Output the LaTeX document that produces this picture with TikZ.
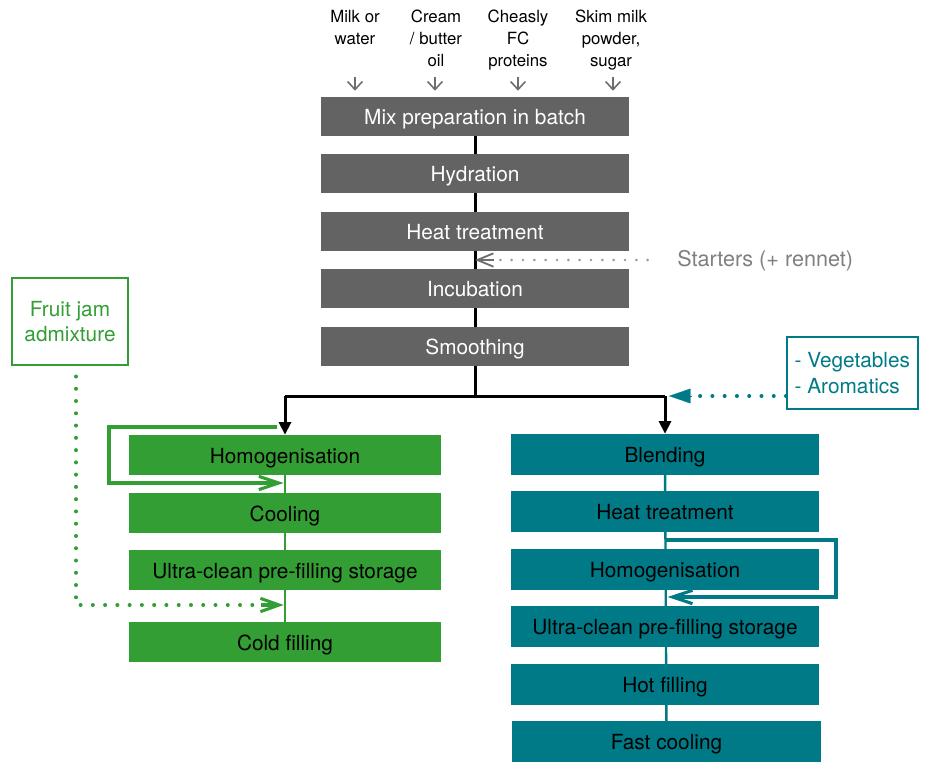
\documentclass[tikz,border=0pt]{standalone}
\usepackage{fontspec}
\setmainfont{TeX Gyre Heros}
\usetikzlibrary{arrows.meta,backgrounds}
\definecolor{boxgrey}{HTML}{636363}
\definecolor{mygreen}{HTML}{339E33}
\definecolor{myteal}{HTML}{007A87}
\definecolor{lightgrey}{HTML}{7F7F7F}
\definecolor{dotgrey}{HTML}{9A9A9A}
\definecolor{arrgrey}{HTML}{6E6E6E}
\begin{document}
\begin{tikzpicture}[x=0.75pt,y=-0.75pt,
  boxtext/.style={font=\fontsize{15.6}{19}\selectfont},
  boxbase/.style={boxtext,rectangle,inner sep=0pt,text height=13.5pt,text depth=1pt},
  greybox/.style={boxbase,fill=boxgrey,text=white,minimum width=231pt,minimum height=29.25pt},
  greenbox/.style={boxbase,fill=mygreen,text=black,minimum width=234pt,minimum height=30pt},
  tealbox/.style={boxbase,fill=myteal,text=black,minimum width=231pt,minimum height=30.75pt},
  inlabel/.style={font=\fontsize{12.6}{16.5}\selectfont,align=center,anchor=north,inner sep=0pt},
  mainline/.style={line width=2.25pt,black},
  mainarrow/.style={mainline,-{Triangle[length=9.5pt,width=9pt]}},
  dotline/.style={line width=3pt,line cap=round,dash pattern=on 0pt off 9.2pt},
  loopline/.style={line width=2.3pt,line join=miter},
  inarr/.style={line width=1.2pt,arrgrey,-{Straight Barb[length=6pt,width=11pt]}}
]
\useasboundingbox (0,0) rectangle (925,761);

% grey column
\node[greybox] (mix) at (475,116.5) {Mix preparation in batch};
\node[greybox] (hyd) at (475,173.5) {Hydration};
\node[greybox] (heat) at (475,231.5) {Heat treatment};
\node[greybox] (inc) at (475,288.5) {Incubation};
\node[greybox] (smo) at (475,346.5) {Smoothing};

% green column
\node[greenbox] (gh) at (285,455) {Homogenisation};
\node[greenbox] (gc) at (285,513) {Cooling};
\node[greenbox] (gu) at (285,570) {Ultra-clean pre-filling storage};
\node[greenbox] (gf) at (285,642) {Cold filling};

% teal column
\node[tealbox] (tb) at (665,454.5) {Blending};
\node[tealbox] (th) at (665,511.5) {Heat treatment};
\node[tealbox] (tm) at (665,569) {Homogenisation};
\node[tealbox] (tu) at (665,626.5) {Ultra-clean pre-filling storage};
\node[tealbox] (tf) at (665,684) {Hot filling};
\node[tealbox,minimum width=231.75pt] (tc) at (666.5,741) {Fast cooling};

% input labels
\node[inlabel] (in1) at (355,10) {Milk or\\water};
\node[inlabel] (in2) at (436,10) {Cream\\/ butter\\oil};
\node[inlabel] (in3) at (518,10) {Cheasly\\FC\\proteins};
\node[inlabel] (in4) at (611,10) {Skim milk\\powder,\\sugar};

% side inputs
\node[font=\fontsize{16.2}{19}\selectfont,text=lightgrey,anchor=west,inner sep=0pt] (start) at (677,261) {Starters (+ rennet)};
\node[boxtext,draw=mygreen,line width=1.5pt,text=mygreen,align=center,minimum width=87pt,minimum height=65pt,inner sep=0pt] (fruit) at (70,321.5) {Fruit jam\\admixture};
\node[boxtext,draw=myteal,line width=1.5pt,text=myteal,align=left,minimum width=98pt,minimum height=54pt,inner sep=0pt,anchor=west] (veg) at (786,373) {- Vegetables\\- Aromatics};

% coordinates
\coordinate (j) at (475,396);
\coordinate (jl) at (285,396);
\coordinate (jr) at (665,396);
\coordinate (a1) at (355,77);
\coordinate (a2) at (435,77);
\coordinate (a3) at (518,77);
\coordinate (a4) at (613,77);
\coordinate (fe) at (285,605);
\coordinate (gl1) at (277,427);
\coordinate (gl2) at (109,427);
\coordinate (gl3) at (109,483);
\coordinate (gl4) at (285,483);
\coordinate (tl1) at (665,540);
\coordinate (tl2) at (836,540);
\coordinate (tl3) at (836,597);
\coordinate (tl4) at (665,597);
\coordinate (ve) at (669,396);
\coordinate (se) at (475,260);

\begin{scope}[on background layer]
  \draw[mainline] (mix.center) -- (smo.center);
  \draw[line width=1.8pt,mygreen] (gh.center) -- (gf.center);
  \draw[line width=1.8pt,myteal] (tb.center) -- (tc.center);
\end{scope}

\draw[mainline] (smo.south) -- (j);
\draw[mainline] (jl) -- (jr);
\draw[mainarrow] (jl) -- (gh.north);
\draw[mainarrow] (jr) -- (tb.north);

% input arrows
\draw[inarr] (a1) -- ([yshift=4.5pt]a1 |- mix.north);
\draw[inarr] (a2) -- ([yshift=4.5pt]a2 |- mix.north);
\draw[inarr] (a3) -- ([yshift=4.5pt]a3 |- mix.north);
\draw[inarr] (a4) -- ([yshift=4.5pt]a4 |- mix.north);

% starters
\draw[dotline,dotgrey,line width=2.2pt,dash pattern=on 0pt off 8.5pt] ([xshift=-22pt]start.west |- se) -- ([xshift=8pt]se);
\draw[line width=1.4pt,arrgrey,-{Straight Barb[length=12pt,width=10pt]}] ([xshift=14pt]se) -- (se);

% fruit jam
\draw[dotline,mygreen] ([xshift=4.5pt,yshift=-8pt]fruit.south) |- ([xshift=-20pt]fe);
\draw[line width=2.3pt,mygreen,-{Straight Barb[length=14pt,width=10pt]}] ([xshift=-18pt]fe) -- ([xshift=-1pt]fe);

% green loop
\draw[loopline,mygreen,-{Straight Barb[length=15pt,width=10pt]}] (gl1) -- (gl2) -- (gl3) -- ([xshift=-1pt]gl4);

% teal loop
\draw[loopline,myteal,-{Straight Barb[length=15pt,width=10pt]}] (tl1) -- (tl2) -- (tl3) -- ([xshift=2pt]tl4);

% vegetables
\draw[dotline,myteal] (veg.west |- ve) -- ([xshift=16pt]ve);
\draw[myteal,line width=0.1pt,-{Triangle[length=16pt,width=11pt]}] ([xshift=17pt]ve) -- (ve);
\end{tikzpicture}
\end{document}
